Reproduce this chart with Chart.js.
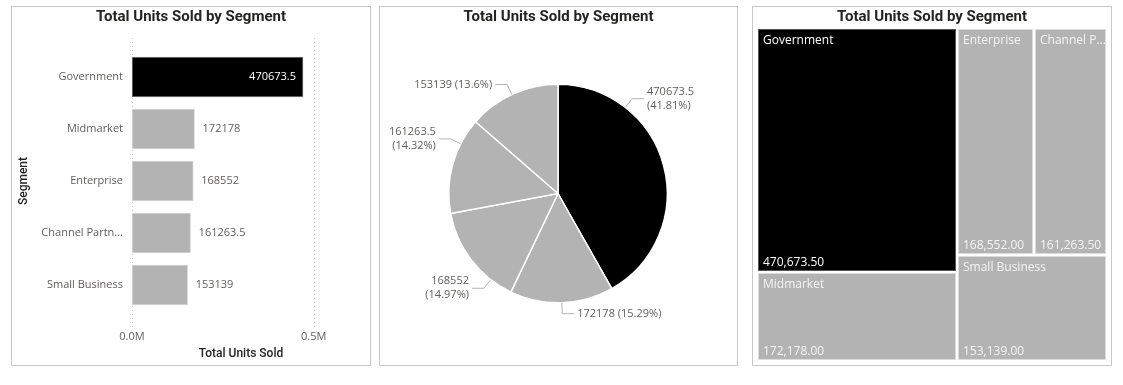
<!DOCTYPE html>
<html>
<head>
<meta charset="utf-8">
<script src="https://cdn.jsdelivr.net/npm/chart.js@4.4.1/dist/chart.umd.min.js"></script>
<style>
    body { margin: 0; background: #ffffff; width: 1123px; height: 385px; position: relative; overflow: hidden; }
    .panel { position: absolute; border: 1px solid #c8c8c8; background: #fff; }
    .panel canvas { position: absolute; left: 0; top: 0; }
    .title {
        position: absolute; left: 0; right: 0; top: 0; text-align: center;
        font: bold 15px Roboto, "DejaVu Sans", sans-serif; color: #252423; line-height: 18px;
        pointer-events: none; z-index: 2;
    }
</style>
</head>
<body>
<div class="panel" style="left:11px;top:6px;width:358px;height:358px">
    <canvas id="barChart" width="358" height="358"></canvas>
    <div class="title">Total Units Sold by Segment</div>
</div>
<div class="panel" style="left:379px;top:6px;width:357px;height:358px">
    <canvas id="pieChart" width="357" height="358"></canvas>
    <div class="title">Total Units Sold by Segment</div>
</div>
<div class="panel" style="left:752px;top:6px;width:358px;height:358px">
    <canvas id="treeChart" width="358" height="358"></canvas>
    <div class="title">Total Units Sold by Segment</div>
</div>
<script>
const segments = ["Government", "Midmarket", "Enterprise", "Channel Partners", "Small Business"];
const unitsSold = [470673.5, 172178, 168552, 161263.5, 153139];
const axisTicks = [0, 500000];

const labelFont = '"Segoe UI", "Open Sans", sans-serif';
const axisTitleFont = 'Roboto, "DejaVu Sans", sans-serif';
const textGray = "#605e5c";

let fillColors = segments.map((s, i) => i === 0 ? "#000000" : "#b3b3b3");
let edgeColors = segments.map((s, i) => i === 0 ? "#808080" : "#d9d9d9");

Chart.defaults.font.family = labelFont;

function fitText(ctx, text, maxW) {
    if (ctx.measureText(text).width <= maxW) return text;
    let t = text;
    while (t.length > 1 && ctx.measureText(t + "...").width > maxW) t = t.slice(0, -1);
    return t + "...";
}

// dotted vertical gridlines, Power BI draws them a bit past the bars
const dottedGrid = {
    id: "dottedGrid",
    beforeDatasetsDraw(chart) {
        let ctx = chart.ctx;
        let area = chart.chartArea;
        let xs = chart.scales.x;
        ctx.save();
        ctx.strokeStyle = "#c8c8c8";
        ctx.lineWidth = 1;
        ctx.setLineDash([1, 3]);
        xs.ticks.forEach(t => {
            let px = Math.round(xs.getPixelForValue(t.value)) + 0.5;
            ctx.beginPath();
            ctx.moveTo(px, area.top - 13);
            ctx.lineTo(px, area.bottom + 16);
            ctx.stroke();
        });
        ctx.restore();
    }
};

const barLabels = {
    id: "barLabels",
    afterDatasetsDraw(chart) {
        let ctx = chart.ctx;
        let meta = chart.getDatasetMeta(0);
        let values = chart.data.datasets[0].data;
        ctx.save();
        ctx.font = "11px " + labelFont;
        ctx.textBaseline = "middle";
        meta.data.forEach((bar, i) => {
            let text = String(values[i]);
            let w = ctx.measureText(text).width;
            if (bar.x + 8 + w > chart.chartArea.right) {
                ctx.fillStyle = "#ffffff";
                ctx.textAlign = "right";
                ctx.fillText(text, bar.x - 7, bar.y);
            } else {
                ctx.fillStyle = textGray;
                ctx.textAlign = "left";
                ctx.fillText(text, bar.x + 8, bar.y);
            }
        });
        ctx.restore();
    }
};

new Chart(document.getElementById("barChart").getContext("2d"), {
    type: "bar",
    data: {
        labels: segments,
        datasets: [{
            data: unitsSold,
            backgroundColor: fillColors,
            borderColor: edgeColors,
            borderWidth: 1,
            borderSkipped: false,
            barThickness: 40
        }]
    },
    options: {
        indexAxis: "y",
        responsive: false,
        animation: false,
        layout: { padding: { top: 44, right: 20, bottom: 0, left: 0 } },
        plugins: { legend: { display: false }, tooltip: { enabled: false } },
        scales: {
            x: {
                min: 0,
                max: 600000,
                afterBuildTicks: s => { s.ticks = axisTicks.map(v => ({ value: v })); },
                afterFit: s => { s.height = 54; },
                grid: { display: false, drawTicks: false },
                border: { display: false },
                ticks: {
                    padding: 19,
                    color: textGray,
                    font: { size: 11 },
                    callback: v => (v / 1000000).toFixed(1) + "M"
                },
                title: {
                    display: true,
                    text: "Total Units Sold",
                    color: "#252423",
                    font: { family: axisTitleFont, size: 12, weight: "500" },
                    padding: { top: 0, bottom: 4 }
                }
            },
            y: {
                afterFit: s => { s.width = 120; },
                grid: { display: false, drawTicks: false },
                border: { display: false },
                ticks: {
                    padding: 9,
                    color: textGray,
                    font: { size: 11 },
                    callback: function (v) {
                        let label = this.getLabelForValue(v);
                        return label.length > 14 ? label.slice(0, 13) + "..." : label;
                    }
                },
                title: {
                    display: true,
                    text: "Segment",
                    color: "#252423",
                    font: { family: axisTitleFont, size: 12, weight: "500" },
                    padding: { top: 5, bottom: 0 }
                }
            }
        }
    },
    plugins: [dottedGrid, barLabels]
});

// leader-line labels round the pie
const pieLabels = {
    id: "pieLabels",
    afterDatasetsDraw(chart, args, opts) {
        let ctx = chart.ctx;
        let meta = chart.getDatasetMeta(0);
        let values = chart.data.datasets[0].data;
        let total = values.reduce((a, b) => a + b, 0);
        ctx.save();
        ctx.font = "11px " + labelFont;
        ctx.textBaseline = "middle";
        meta.data.forEach((arc, i) => {
            let deg = opts.angles[i];
            let a = (deg - 90) * Math.PI / 180;
            let r = arc.outerRadius;
            let x0 = arc.x + Math.cos(a) * r, y0 = arc.y + Math.sin(a) * r;
            let x1 = arc.x + Math.cos(a) * (r + 11), y1 = arc.y + Math.sin(a) * (r + 11);
            let right = Math.sin(deg * Math.PI / 180) >= 0;
            let x2 = right ? x1 + 12 : x1 - 12;
            ctx.strokeStyle = "#b4b4b4";
            ctx.lineWidth = 1;
            ctx.beginPath();
            ctx.moveTo(x0, y0);
            ctx.lineTo(x1, y1);
            ctx.lineTo(x2, y1);
            ctx.stroke();

            let pct = parseFloat((values[i] / total * 100).toFixed(2));
            let lines = [String(values[i]), "(" + pct + "%)"];
            if (Math.abs(Math.cos(deg * Math.PI / 180)) > 0.9) lines = [lines.join(" ")];
            ctx.fillStyle = textGray;
            ctx.textAlign = right ? "left" : "right";
            let tx = right ? x2 + 3 : x2 - 3;
            let startY = y1 - (lines.length - 1) * 7;
            lines.forEach((ln, k) => ctx.fillText(ln, tx, startY + k * 14));
        });
        ctx.restore();
    }
};

new Chart(document.getElementById("pieChart").getContext("2d"), {
    type: "pie",
    data: {
        labels: segments,
        datasets: [{
            data: unitsSold,
            backgroundColor: fillColors,
            borderColor: "#ffffff",
            borderWidth: 1.5,
            hoverOffset: 0
        }]
    },
    options: {
        responsive: false,
        animation: false,
        layout: { padding: { top: 76.5, bottom: 61.5, left: 68, right: 69 } },
        plugins: {
            legend: { display: false },
            tooltip: { enabled: false },
            pieLabels: { angles: [38, 178, 218, 297, 335] }
        }
    },
    plugins: [pieLabels]
});

// treemap: nested slice-and-dice, cells mapped through the hidden 0..1 scales
function nodeSum(node, values) {
    if (typeof node === "number") return values[node];
    return node.reduce((s, n) => s + nodeSum(n, values), 0);
}

function layoutNode(node, x0, y0, x1, y1, horizontal, values, out) {
    if (typeof node === "number") { out[node] = { x0, y0, x1, y1 }; return; }
    let sums = node.map(n => nodeSum(n, values));
    let total = sums.reduce((a, b) => a + b, 0);
    let pos = horizontal ? x0 : y0;
    node.forEach((n, k) => {
        let size = sums[k] / total * (horizontal ? x1 - x0 : y1 - y0);
        if (horizontal) layoutNode(n, pos, y0, pos + size, y1, false, values, out);
        else layoutNode(n, x0, pos, x1, pos + size, true, values, out);
        pos += size;
    });
}

const treemapCells = {
    id: "treemapCells",
    afterDatasetsDraw(chart, args, opts) {
        let ctx = chart.ctx;
        let xs = chart.scales.x, ys = chart.scales.y;
        let rects = [];
        layoutNode(opts.groups, 0, 0, 1, 1, true, unitsSold, rects);
        ctx.save();
        rects.forEach((r, i) => {
            let px0 = Math.round(xs.getPixelForValue(r.x0));
            let px1 = Math.round(xs.getPixelForValue(r.x1));
            let py0 = Math.round(ys.getPixelForValue(r.y0));
            let py1 = Math.round(ys.getPixelForValue(r.y1));
            ctx.fillStyle = fillColors[i];
            ctx.fillRect(px0 + 1, py0 + 1, px1 - px0 - 2, py1 - py0 - 2);
            ctx.strokeStyle = i === 0 ? "#555555" : "#dcdcdc";
            ctx.lineWidth = 1;
            ctx.strokeRect(px0 + 1.5, py0 + 1.5, px1 - px0 - 3, py1 - py0 - 3);

            ctx.fillStyle = i === 0 ? "#ffffff" : "#f4f4f4";
            ctx.font = "12px " + labelFont;
            ctx.textAlign = "left";
            ctx.textBaseline = "middle";
            ctx.fillText(fitText(ctx, segments[i], px1 - px0 - 5), px0 + 6, py0 + 13);
            let valueText = unitsSold[i].toLocaleString("en-US", { minimumFractionDigits: 2, maximumFractionDigits: 2 });
            ctx.fillText(valueText, px0 + 6, py1 - 9);
        });
        ctx.restore();
    }
};

new Chart(document.getElementById("treeChart").getContext("2d"), {
    type: "scatter",
    data: { datasets: [{ data: [] }] },
    options: {
        responsive: false,
        animation: false,
        layout: { padding: { top: 21, bottom: 4, left: 4, right: 4 } },
        plugins: {
            legend: { display: false },
            tooltip: { enabled: false },
            treemapCells: { groups: [[0, 1], [[2, 3], 4]] }
        },
        scales: {
            x: { type: "linear", min: 0, max: 1, display: false },
            y: { type: "linear", min: 0, max: 1, reverse: true, display: false }
        }
    },
    plugins: [treemapCells]
});
</script>
</body>
</html>
